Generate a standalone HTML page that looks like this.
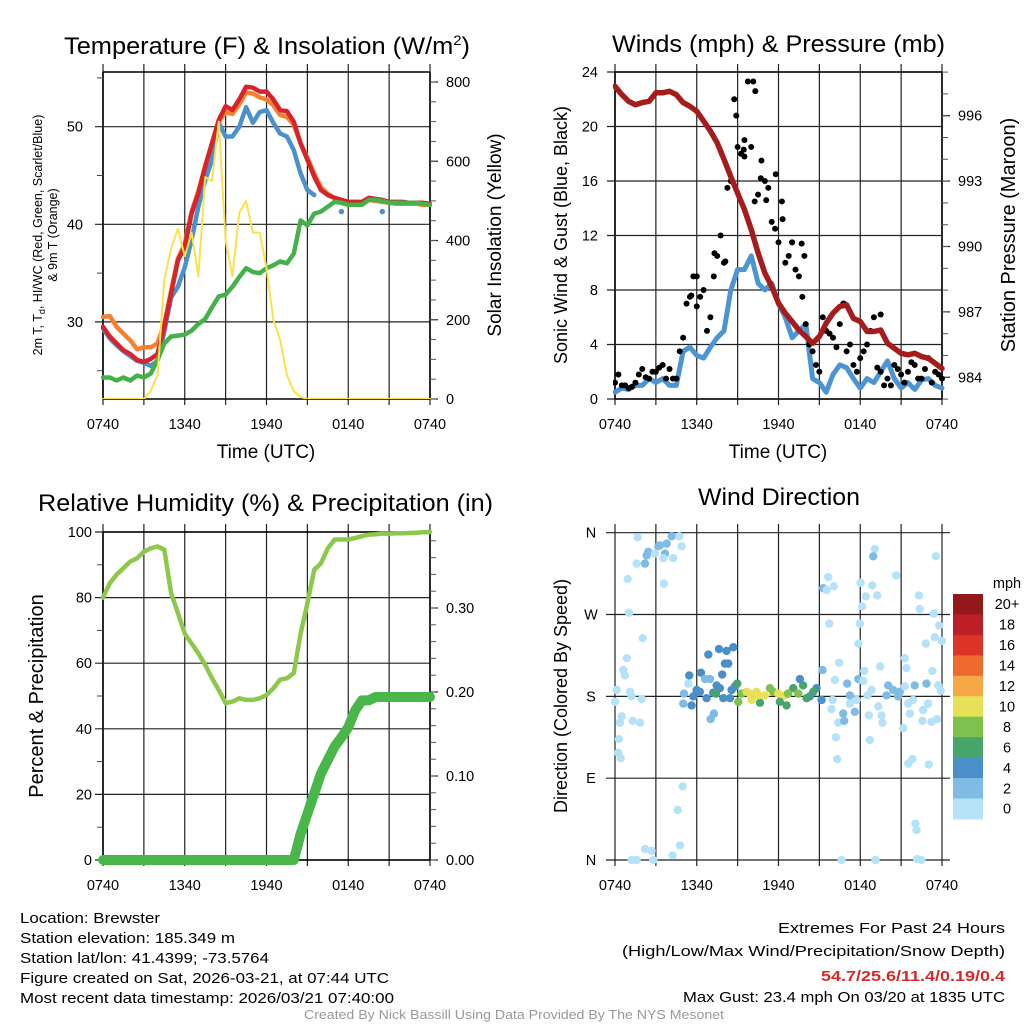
<!DOCTYPE html>
<html><head><meta charset="utf-8">
<style>
html,body{margin:0;padding:0;background:#fff;}
svg{display:block;font-family:"Liberation Sans",sans-serif;}
</style></head>
<body>
<svg id="fig" width="1024" height="1024" viewBox="0 0 1024 1024" xmlns="http://www.w3.org/2000/svg">
<rect width="1024" height="1024" fill="#fff"/>
<text x="64" y="54" font-size="24" textLength="406" lengthAdjust="spacingAndGlyphs">Temperature (F) &amp; Insolation (W/m<tspan font-size="14" dy="-9">2</tspan><tspan dy="9">)</tspan></text>
<text x="612" y="52" font-size="24" textLength="333" lengthAdjust="spacingAndGlyphs">Winds (mph) &amp; Pressure (mb)</text>
<text x="38" y="511" font-size="24" textLength="455" lengthAdjust="spacingAndGlyphs">Relative Humidity (%) &amp; Precipitation (in)</text>
<text x="698" y="505" font-size="24" textLength="162" lengthAdjust="spacingAndGlyphs">Wind Direction</text>

<text x="266" y="458" font-size="19" text-anchor="middle">Time (UTC)</text>
<text x="778" y="458" font-size="19" text-anchor="middle">Time (UTC)</text>

<text transform="translate(42,235) rotate(-90)" font-size="12.5" text-anchor="middle">2m T, T<tspan font-size="9" dy="3">d</tspan><tspan dy="-3">, HI/WC (Red, Green, Scarlet/Blue)</tspan></text>
<text transform="translate(57,235) rotate(-90)" font-size="12.5" text-anchor="middle">&amp; 9m T (Orange)</text>
<text transform="translate(501,235) rotate(-90)" font-size="19" text-anchor="middle">Solar Insolation (Yellow)</text>
<text transform="translate(567,235) rotate(-90)" font-size="18" text-anchor="middle">Sonic Wind &amp; Gust (Blue, Black)</text>
<text transform="translate(1015,235) rotate(-90)" font-size="20" text-anchor="middle">Station Pressure (Maroon)</text>
<text transform="translate(43,696) rotate(-90)" font-size="20" text-anchor="middle">Percent &amp; Precipitation</text>
<text transform="translate(567,696) rotate(-90)" font-size="18" text-anchor="middle">Direction (Colored By Speed)</text>

<g font-size="15">
<text x="20" y="923" textLength="140" lengthAdjust="spacingAndGlyphs">Location: Brewster</text>
<text x="20" y="943" textLength="215" lengthAdjust="spacingAndGlyphs">Station elevation: 185.349 m</text>
<text x="20" y="963" textLength="249" lengthAdjust="spacingAndGlyphs">Station lat/lon: 41.4399; -73.5764</text>
<text x="20" y="983" textLength="369" lengthAdjust="spacingAndGlyphs">Figure created on Sat, 2026-03-21, at 07:44 UTC</text>
<text x="20" y="1003" textLength="374" lengthAdjust="spacingAndGlyphs">Most recent data timestamp: 2026/03/21 07:40:00</text>
</g>
<g font-size="15">
<text x="778" y="933" textLength="227" lengthAdjust="spacingAndGlyphs">Extremes For Past 24 Hours</text>
<text x="622" y="956" textLength="383" lengthAdjust="spacingAndGlyphs">(High/Low/Max Wind/Precipitation/Snow Depth)</text>
<text x="821" y="981" textLength="184" lengthAdjust="spacingAndGlyphs" font-weight="bold" fill="#d42a2a">54.7/25.6/11.4/0.19/0.4</text>
<text x="683" y="1002" textLength="322" lengthAdjust="spacingAndGlyphs">Max Gust: 23.4 mph On 03/20 at 1835 UTC</text>
</g>
<text x="304" y="1019" font-size="12.5" fill="#999" textLength="420" lengthAdjust="spacingAndGlyphs">Created By Nick Bassill Using Data Provided By The NYS Mesonet</text>
</svg>
<script>
// ---------- data (30-minute steps from 0740 UTC) ----------
const xTickLabels = ["0740","1340","1940","0140","0740"];
const tempRed = [29.5,28.5,27.8,27.1,26.7,26.1,25.9,26.2,26.7,29.5,32.9,36.3,37.7,41.1,43.2,45.9,48.3,50.7,52.1,51.7,52.8,54.1,54.0,53.6,53.6,52.8,51.7,51.6,50.5,48.3,46.6,44.9,43.5,43.0,42.7,42.5,42.3,42.3,42.3,42.7,42.6,42.5,42.3,42.3,42.3,42.2,42.2,42.2,42.1];
const tempOrange = [30.5,30.6,29.5,28.8,28.1,27.2,27.4,27.4,27.8,29.8,33.2,36.5,38.0,41.3,43.4,46.0,48.3,50.5,51.5,51.3,52.3,53.5,53.4,53.0,52.8,52.2,51.2,51.0,50.2,48.3,46.8,45.2,43.8,43.1,42.7,42.5,42.3,42.3,42.2,42.5,42.4,42.3,42.2,42.1,42.1,42.1,42.1,42.0,42.0];
const tempBlue = [29.3,28.3,27.6,27.0,26.5,26.0,25.8,25.5,26.0,29.0,32.5,33.6,35.6,38.4,41.8,44.5,46.6,50.4,49.0,49.0,50.0,52.0,50.4,51.5,51.7,50.4,49.3,49.0,47.6,45.2,43.5,43.0,null,null,null,41.3,null,null,null,null,null,41.3,null,null,null,null,null,null,null];
const dewpoint = [24.3,24.3,24.0,24.3,24.0,24.5,24.3,24.7,26.1,27.8,28.5,28.6,28.7,29.1,29.8,30.3,31.5,32.6,32.8,33.6,34.6,35.5,35.1,35.0,35.5,35.8,36.2,36.0,37.0,40.4,39.9,41.1,41.3,41.8,42.3,42.2,42.0,42.0,42.0,42.5,42.5,42.4,42.2,42.2,42.2,42.2,42.2,42.1,42.0];
const insolation = [0,0,0,0,0,0,0,20,60,300,380,430,360,420,310,560,550,700,400,310,470,500,420,420,330,200,150,60,20,5,0,0,0,0,0,0,0,0,0,0,0,0,0,0,0,0,0,0,0];
const windSpeed = [0.5,0.8,0.7,1.0,1.0,1.5,1.2,1.5,1.0,1.0,3.5,3.8,3.2,3.0,3.8,4.5,5.0,8.0,9.5,9.5,10.5,8.5,8.0,8.5,7.0,6.0,4.5,5.0,5.5,1.5,1.2,0.5,1.8,2.5,2.3,1.5,0.8,1.5,1.2,2.0,2.8,1.5,0.8,1.2,0.7,1.4,1.5,1.0,0.8];
const pressure = [997.35,996.97,996.66,996.5,996.6,996.66,997.05,997.05,997.12,996.97,996.6,996.43,996.2,995.75,995.3,994.75,994.0,993.2,992.45,991.7,990.77,989.7,988.78,988.17,987.4,986.94,986.56,986.17,985.87,985.56,985.87,986.48,986.94,987.25,987.32,986.7,986.56,986.1,986.1,986.17,985.56,985.33,985.1,985.03,985.1,984.95,984.87,984.64,984.41];
const gustA = [1.2,1.0,0.8,1.2,2.2,1.5,2.0,2.5,2.2,1.5,4.5,7.5,6.8,8.0,6.0,10.5,10.0,16.0,18.5,19.0,18.5,15.0,16.0,13.0,11.5,10.0,11.5,9.0,5.5,3.5,2.0,5.0,4.5,5.5,3.5,2.5,3.0,4.0,6.0,2.0,1.5,2.5,1.8,2.0,2.5,1.5,3.0,2.0,1.5];
const gustB = [1.8,1.0,0.9,1.8,1.6,2.0,2.3,1.5,1.5,3.5,7.0,9.0,7.5,5.0,9.0,12.0,15.5,22.0,18.0,23.3,14.5,17.5,15.5,12.5,14.5,10.5,9.5,7.5,4.0,2.5,6.0,4.8,3.8,7.0,4.0,2.0,3.5,5.0,2.3,1.0,1.0,2.2,1.2,2.7,1.5,2.2,1.2,1.8];
const gustExtraHour = [8.9,9.5,10.15,10.3,9.45,10.7,11.1,11.8,12.3,13.0,13.7,13.9,7.3,8.1,6.0,5.6,16.8,19.5];
const gustExtraValue = [20.8,17.8,23.3,22.6,18.3,16.2,14.6,16.5,13.2,11.5,11.4,10.5,10.7,10.1,9.0,7.6,7.0,6.2];
const rh = [80,84.4,87,89,91,92,94,95,95.6,94.6,81.4,75.3,69,66,63,59.5,55.4,51.8,47.8,48.3,49.3,48.8,48.8,49.3,50.3,52.3,55,55.4,57,69,78.3,88.5,90.5,95,97.7,97.7,97.7,98.2,98.7,99.2,99.3,99.5,99.5,99.6,99.6,99.7,99.8,99.9,100];
const precip = [0,0,0,0,0,0,0,0,0,0,0,0,0,0,0,0,0,0,0,0,0,0,0,0,0,0,0,0,0,0.031,0.055,0.079,0.103,0.119,0.135,0.146,0.158,0.178,0.19,0.19,0.194,0.194,0.194,0.194,0.194,0.194,0.194,0.194,0.194];
// wind direction observations
const dirHour = [1.66,1.59,2.2,2.44,2.32,3.18,3.3,3.79,4.16,4.72,4.89,4.28,3.67,3.55,2.93,3.59,0.93,1.03,2.03,0.86,0.61,0.73,0.12,0,1.1,1.22,1.96,0.49,0.37,1.3,1.83,0.29,0.24,0.42,4.96,4.6,4.77,4.23,2.2,2.69,1.59,2.81,1.22,
 5.45,6.31,6.85,7.63,8.19,8.68,8.07,8.31,7.87,5.06,5.38,5.75,5.99,6.23,6.6,6.97,6.72,7.21,7.46,7.7,7.95,8.44,8.56,8.8,5.62,5.01,7.26,7.02,13.57,14.79,14.3,15.16,15.23,
 8.97,9.05,9.29,9.66,10.02,10.39,10.64,11.0,11.37,11.61,11.98,12.1,12.47,12.59,13.08,13.45,13.81,14.06,14.55,7.41,10.5,9.9,12.7,
 15.28,15.53,15.65,16.06,15.72,16.14,15.97,15.89,16.45,16.38,16.21,16.31,16.75,16.82,17.04,17.24,17.6,17.24,17.73,17.85,18.22,18.29,18.02,18.41,18.88,19.24,19.07,18.95,18.14,17.97,17.87,18.53,18.63,18.7,18.83,19.32,19.46,19.56,19.63,19.93,20.05,20.42,20.78,20.9,20.64,21.15,21.27,21.39,21.52,21.64,21.27,22.0,22.86,22.3,22.37,21.88,22.62,22.81,22.98,22.57,23.23,23.64,23.3,23.4,23.47,23.79,23.55,23.99,23.72,23.91,21.52,21.83,23.03,22.05,22.13,22.18,22.49,16.63,19.12];
const dirDeg = [355,326,326,339,335,345,346,348,356,356,345,332,337,332,337,304,309,272,244,222,209,203,187,174,185,180,177,158,151,153,151,133,118,112,81,55,16,5,12,10,0,0,0,
 203,206,226,232,230,234,216,216,204,183,194,180,187,185,199,199,178,184,192,189,178,178,187,191,170,172,161,155,199,189,180,176,209,
 194,174,183,185,176,185,173,181,189,185,183,174,181,170,189,183,192,178,185,183,181,183,183,
 299,297,311,301,260,198,176,166,217,151,135,111,161,153,194,181,163,172,176,199,197,208,305,290,302,291,342,334,279,260,238,181,159,132,187,169,213,159,151,181,192,187,180,185,313,145,222,211,172,161,191,192,194,291,276,176,165,238,172,153,152,155,208,271,245,258,334,241,192,186,106,111,105,40,33,1,0,0,0];
const dirSpeed = [1,1,3,3,3,3,3,3,3,1,1,1,3,1,1,1,1,1,1,1,1,1,1,1,1,1,1,1,1,1,1,1,1,1,1,1,1,1,1,1,1,1,1,
 5,5,5,5,5,5,5,5,5,3,1,5,5,5,3,3,5,5,5,5,5,5,5,5,5,3,3,3,5,5,5,5,3,
 7,9,9,11,11,11,7,11,9,9,11,7,11,7,7,9,7,7,7,7,11,11,9,
 3,1,1,1,1,1,1,1,1,1,1,1,3,3,3,3,3,1,1,3,1,1,1,1,1,1,1,3,1,1,1,1,1,1,1,1,1,1,1,3,3,3,3,3,1,1,1,1,1,1,1,3,3,1,1,1,1,1,1,1,1,1,1,1,1,1,1,1,1,1,1,1,1,1,1,1,1,1,1];
const speedLabels = ["20+","18","16","14","12","10","8","6","4","2","0"];
const speedColors = ["#b5e2f7","#7fbbe5","#4a8fc8","#47a46a","#7dc24a","#e7e15a","#f6a849","#ef6a2f","#dc3528","#be1e27","#93181b"];

// ---------- helpers ----------
const NS = "http://www.w3.org/2000/svg";
const svg = document.getElementById("fig");
function mk(tag, attrs, parent){ const e=document.createElementNS(NS,tag); for(const k in attrs) e.setAttribute(k,attrs[k]); (parent||svg).appendChild(e); return e; }
function lin(d0,d1,r0,r1){ return v => r0 + (v-d0)*(r1-r0)/(d1-d0); }
const hours = tempRed.map((_,i)=>i*0.5);

function panel(name,x0,x1,y0,y1){
  const g = mk("g",{});
  
  
  return {g,x0,x1,y0,y1,x:lin(0,24,x0,x1)};
}
function xAxis(p){
  for(let h=0;h<=24;h+=3){
    const X=p.x(h);
    const l=mk("line",{x1:X,x2:X,y1:p.y0-8,y2:p.y1+6,stroke:"#222","stroke-width":1.2},p.g);
    
    
    if(h%6===0){
      const t=mk("text",{x:X,y:p.y1+30,"font-size":14.5,"text-anchor":"middle"},p.g);
      t.textContent=xTickLabels[h/6];
      
      
    }
  }
}
function leftAxis(p,ys,majors,minors,labels,labelGap,gridExtRight){
  mk("line",{x1:p.x0,x2:p.x0,y1:p.y0,y2:p.y1,stroke:"#000","stroke-width":1.6},p.g);
  majors.forEach((v,i)=>{
    const Y=ys(v);
    const l=mk("line",{x1:p.x0-8,x2:p.x1+(gridExtRight||0),y1:Y,y2:Y,stroke:"#222","stroke-width":1.2},p.g);
    
    
    const t=mk("text",{x:p.x0-labelGap,y:Y+5,"font-size":14.5,"text-anchor":"end"},p.g);
    t.textContent=labels[i];
    
    
  });
  minors.forEach(v=>{const Y=ys(v); mk("line",{x1:p.x0-6,x2:p.x0,y1:Y,y2:Y,stroke:"#444","stroke-width":1},p.g);});
}
function rightAxis(p,ys,majors,minors,labels){
  mk("line",{x1:p.x1,x2:p.x1,y1:p.y0,y2:p.y1,stroke:"#000","stroke-width":1.6},p.g);
  majors.forEach((v,i)=>{
    const Y=ys(v);
    mk("line",{x1:p.x1,x2:p.x1+8,y1:Y,y2:Y,stroke:"#222","stroke-width":1.2},p.g);
    const t=mk("text",{x:p.x1+16,y:Y+5,"font-size":14.5},p.g);
    t.textContent=labels[i];
    
    
  });
  minors.forEach(v=>{const Y=ys(v); mk("line",{x1:p.x1,x2:p.x1+6,y1:Y,y2:Y,stroke:"#555","stroke-width":1},p.g);});
}
function box(p){
  mk("line",{x1:p.x0,x2:p.x1,y1:p.y0,y2:p.y0,stroke:"#000","stroke-width":1.6},p.g);
  mk("line",{x1:p.x0,x2:p.x1,y1:p.y1,y2:p.y1,stroke:"#000","stroke-width":1.6},p.g);
}
function series(p,xs,vals,ys,color,w,name){
  let d="",pen=false;
  vals.forEach((v,i)=>{
    if(v===null){pen=false;return;}
    const X=p.x(xs[i]).toFixed(1),Y=ys(v).toFixed(1);
    d+=(pen?"L":"M")+X+","+Y; pen=true;
    const prevNull = i===0 || vals[i-1]===null, nextNull = i===vals.length-1 || vals[i+1]===null;
    if(prevNull && nextNull && i>0){
      const c=mk("circle",{cx:X,cy:Y,r:w/2+0.5,fill:color},p.g);
      
      
    }
  });
  const path=mk("path",{d,fill:"none",stroke:color,"stroke-width":w,"stroke-linejoin":"round","stroke-linecap":"round"},p.g);
  
  
}
function range(a,b,s){const r=[];for(let v=a;v<=b+1e-9;v+=s)r.push(+v.toFixed(4));return r;}

// ---------- Panel 1: temperature ----------
const p1=panel("temperature-panel",103,430,72,399);
const yT=lin(40,50,224.3,126.7);
const yI=lin(0,800,399,82);
xAxis(p1);
leftAxis(p1,yT,[30,40,50],[25,35,45,55],["30","40","50"],20);
rightAxis(p1,yI,[0,200,400,600,800],range(0,800,50),["0","200","400","600","800"]);
box(p1);
const clip1=mk("clipPath",{id:"c1"});mk("rect",{x:101,y:72,width:331,height:327},clip1);
const g1=mk("g",{"clip-path":"url(#c1)"},p1.g);
const p1c={...p1,g:g1};
series(p1c,hours,tempBlue,yT,"#4b91cd",4.5,"heat-index-wind-chill-line");
series(p1c,hours,tempOrange,yT,"#f5812f",4.5,"temperature-9m-line");
series(p1c,hours,tempRed,yT,"#d7232a",4.5,"temperature-2m-line");
series(p1c,hours,dewpoint,yT,"#46b04a",4.5,"dewpoint-line");
series(p1c,hours,insolation,yI,"#fbe24c",2,"insolation-line");

// ---------- Panel 2: winds & pressure ----------
const p2=panel("winds-panel",615,942,72,399);
const yW=lin(0,24,399,72);
const yP=lin(984,996,377.3,115.7);
xAxis(p2);
leftAxis(p2,yW,[0,4,8,12,16,20,24],[],["0","4","8","12","16","20","24"],17);
rightAxis(p2,yP,[984,987,990,993,996],range(983,998,1),["984","987","990","993","996"]);
box(p2);
const clip2=mk("clipPath",{id:"c2"});mk("rect",{x:613,y:66,width:334,height:337},clip2);
const g2=mk("g",{"clip-path":"url(#c2)"},p2.g);
const p2c={...p2,g:g2};
series(p2c,hours,windSpeed,yW,"#4d95d2",5,"wind-speed-line");
function gustDot(h,v){
  const c=mk("circle",{cx:p2.x(h),cy:yW(v),r:3,fill:"#000"},g2);
  
  
}
gustA.forEach((v,i)=>gustDot(i*0.5,v));
gustB.forEach((v,i)=>gustDot(i*0.5+0.25,v));
gustExtraValue.forEach((v,i)=>gustDot(gustExtraHour[i],v));
series(p2c,hours,pressure,yP,"#a51c1c",5.5,"pressure-line");

// ---------- Panel 3: RH & precip ----------
const p3=panel("humidity-panel",103,430,532,860);
const yR=lin(0,100,860,532);
const yPr=lin(0,0.1,860,776);
xAxis(p3);
leftAxis(p3,yR,[0,20,40,60,80,100],[10,30,50,70,90],["0","20","40","60","80","100"],11);
rightAxis(p3,yPr,[0,0.1,0.2,0.3],range(0,0.38,0.02),["0.00","0.10","0.20","0.30"]);
box(p3);
series(p3,hours,rh,yR,"#8dc84c",4.5,"relative-humidity-line");
series(p3,hours,precip,yPr,"#48b649",10,"precipitation-line");

// ---------- Panel 4: wind direction ----------
const p4=panel("wind-direction-panel",615,942,532,860);
const yD=lin(0,360,860,532.7);
xAxis(p4);
[0,90,180,270,360].forEach((v,i)=>{
  const Y=yD(v);
  const l=mk("line",{x1:606,x2:950,y1:Y,y2:Y,stroke:"#222","stroke-width":1.2},p4.g);
  
  
  const t=mk("text",{x:591,y:Y+5,"font-size":14.5,"text-anchor":"middle"},p4.g);
  t.textContent=["N","E","S","W","N"][i];
  
  
});
dirHour.forEach((h,i)=>{
  const s=dirSpeed[i];
  const idx=Math.min(10,Math.floor(s/2));
  const c=mk("circle",{cx:p4.x(h),cy:yD(dirDeg[i]),r:4.2,fill:speedColors[idx]},p4.g);
  
  
});
// colorbar
const cb=mk("g",{});


const cbTop=594, cbH=20.45;
const mph=mk("text",{x:1007,y:588,"font-size":14.5,"text-anchor":"middle"},cb);
mph.textContent="mph";
speedLabels.forEach((lab,i)=>{
  const r=mk("rect",{x:953,y:cbTop+i*cbH,width:30,height:cbH+0.5,fill:speedColors[10-i]},cb);
  
  
  const t=mk("text",{x:1007,y:cbTop+i*cbH+cbH/2+5,"font-size":14.5,"text-anchor":"middle"},cb);
  t.textContent=lab;
  
  
});
</script>
</body></html>
